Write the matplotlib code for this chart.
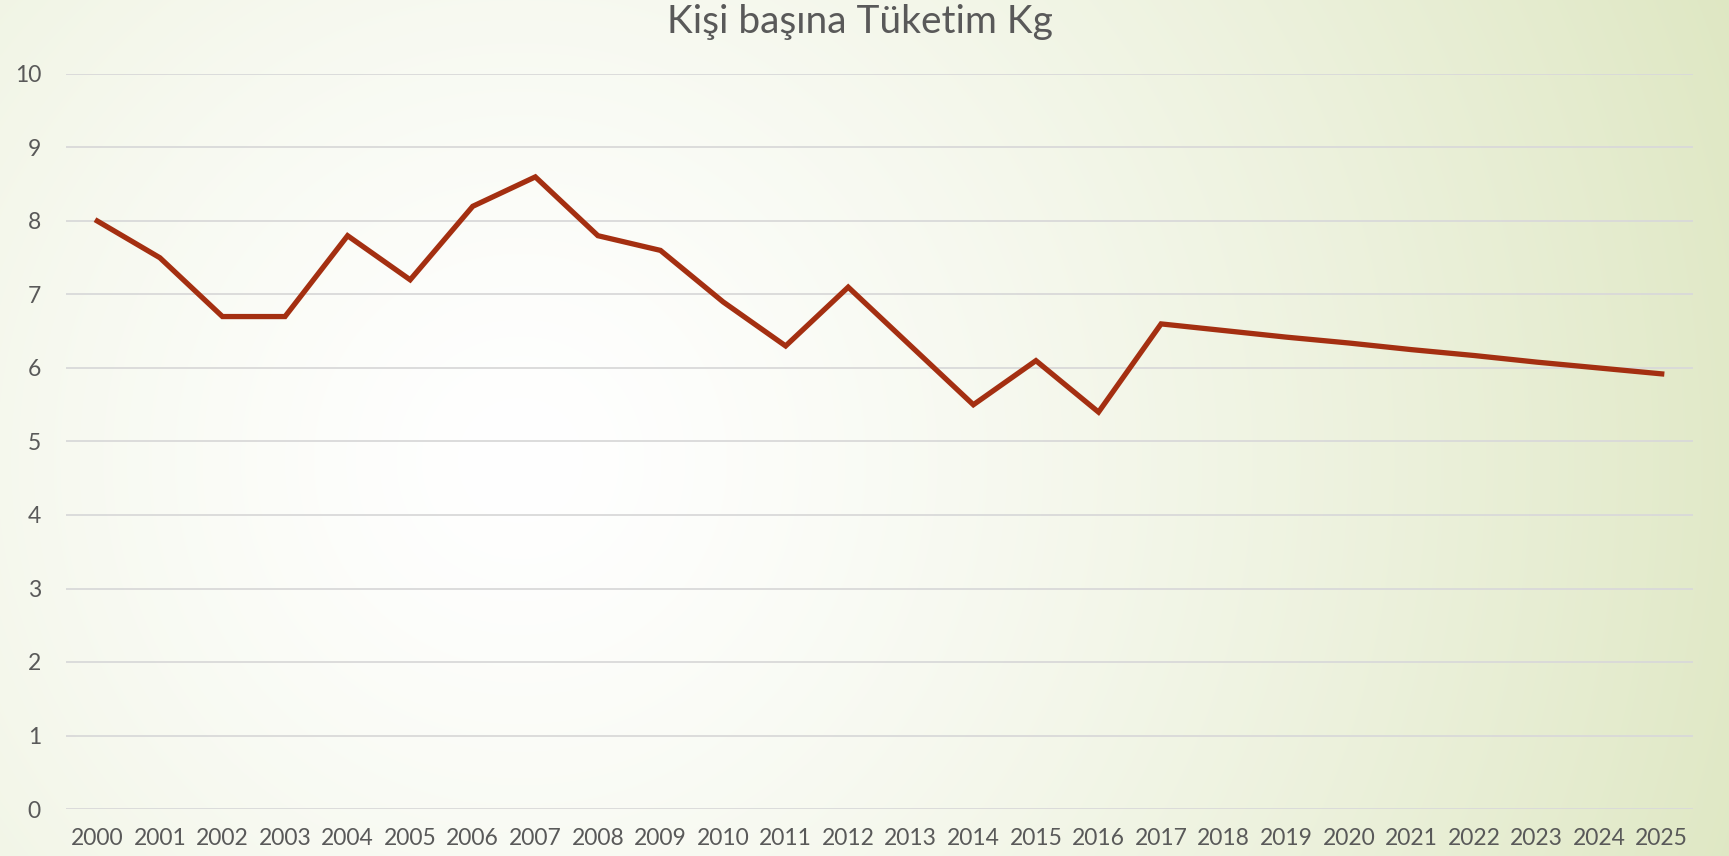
import numpy as np
import matplotlib
matplotlib.use("Agg")
import matplotlib.pyplot as plt

title = "Kişi başına Tüketim Kg"
years = [str(y) for y in range(2000, 2026)]
values = [8.0, 7.5, 6.7, 6.7, 7.8, 7.2, 8.2, 8.6, 7.8, 7.6, 6.9, 6.3, 7.1,
          6.3, 5.5, 6.1, 5.4, 6.6, 6.51, 6.42, 6.34, 6.25, 6.17, 6.08, 6.00, 5.92]
y_ticks = list(range(0, 11))

plt.rcParams['font.family'] = ['Lato', 'DejaVu Sans']
text_color = '#595959'

W, H = 1729, 856
fig = plt.figure(figsize=(W / 100, H / 100), dpi=100)

# background radial gradient
bg = fig.add_axes([0, 0, 1, 1], zorder=-10)
yy, xx = np.mgrid[0:H, 0:W]
cx, cy = 520, 460
d = np.sqrt((xx - cx) ** 2 + (yy - cy) ** 2)
d = d / np.sqrt((W - cx) ** 2 + cy ** 2)
t = np.clip(d, 0, 1) ** 1.35 * 0.95
white = np.array([1.0, 1.0, 1.0])
green = np.array([221, 230, 192]) / 255.0
img = white[None, None, :] * (1 - t[..., None]) + green[None, None, :] * t[..., None]
bg.imshow(img, aspect='auto', extent=[0, 1, 0, 1], origin='upper')
bg.axis('off')

ax = fig.add_axes([66 / W, 1 - 809 / H, (1693 - 66) / W, (809 - 74) / H])
ax.patch.set_alpha(0)
x = np.arange(len(years))
ax.plot(x, values, color='#a42f11', lw=3.8, solid_joinstyle='miter', zorder=3)
ax.set_xlim(-0.5, len(years) - 0.5)
ax.set_ylim(0, 10)
ax.set_yticks(y_ticks)
ax.set_yticklabels([str(v) for v in y_ticks])
ax.set_xticks(x)
ax.set_xticklabels(years)
ax.grid(axis='y', color='#d9d9d9', lw=1.3)
ax.set_axisbelow(True)
for s in ax.spines.values():
    s.set_visible(False)
ax.tick_params(axis='both', length=0, labelsize=16.5, colors=text_color)
ax.tick_params(axis='y', pad=18)
ax.tick_params(axis='x', pad=14)

fig.text(860 / W, 1 - 22 / H, title, ha='center', va='center',
         fontsize=28, color=text_color)

fig.savefig('out.png', dpi=100)
